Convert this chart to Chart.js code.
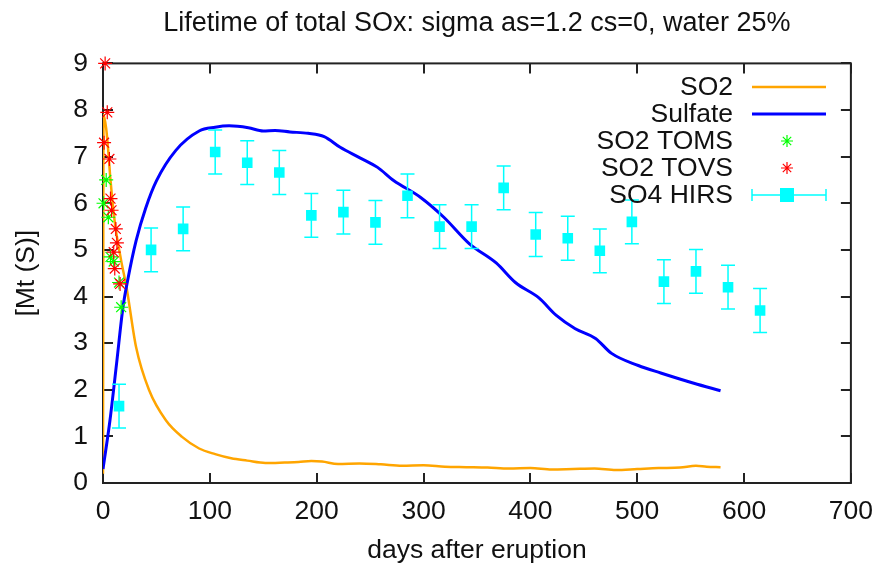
<!DOCTYPE html>
<html>
<head>
<meta charset="utf-8">
<script src="https://cdn.jsdelivr.net/npm/chart.js@4.4.1/dist/chart.umd.min.js"></script>
<style>
  html, body { margin: 0; padding: 0; background: #fff; }
</style>
</head>
<body>
<canvas id="sox-chart" width="886" height="564"></canvas>
<script>
// model SO2
var so2Days = [0, 0.5, 3, 5, 7, 11, 17, 22, 31, 43, 59, 74, 90, 105, 120, 135, 152, 170, 183, 195, 205, 220, 240, 260, 280, 300, 320, 340, 360, 380, 400, 420, 440, 460, 480, 500, 520, 540, 555, 565, 578];
var so2Vals = [0.2, 7.9, 7.6, 7.1, 6.5, 5.6, 4.77, 4.2, 2.91, 2.0, 1.34, 0.99, 0.74, 0.62, 0.53, 0.48, 0.43, 0.44, 0.45, 0.47, 0.46, 0.41, 0.42, 0.4, 0.37, 0.38, 0.35, 0.34, 0.33, 0.31, 0.32, 0.29, 0.3, 0.31, 0.28, 0.3, 0.32, 0.33, 0.37, 0.35, 0.34];

// model sulfate (blue curve)
var sulfDays = [0, 6.5, 12.7, 18.7, 23, 31, 40, 50, 68, 90, 105, 118, 136, 150, 161, 175, 192, 207, 222, 240, 257, 272, 297, 319, 343, 368, 386, 408, 424, 442, 461, 476, 501, 522, 553, 578];
var sulfVals = [0.3, 1.34, 2.56, 3.77, 4.34, 5.2, 5.9, 6.48, 7.13, 7.55, 7.63, 7.66, 7.62, 7.55, 7.56, 7.53, 7.5, 7.43, 7.2, 6.98, 6.77, 6.49, 6.13, 5.7, 5.13, 4.72, 4.3, 3.97, 3.6, 3.31, 3.1, 2.78, 2.52, 2.36, 2.14, 1.98];

// satellite observations
var tomsDays = [3, 0.5, 5, 7, 10, 15, 17];
var tomsVals = [6.5, 6.0, 5.7, 4.85, 4.75, 4.3, 3.77];
var tovsDays = [2, 4, 1, 6, 7, 8, 12, 13, 10, 11, 16];
var tovsVals = [9.0, 7.95, 7.3, 6.95, 6.1, 5.85, 5.45, 5.15, 4.95, 4.6, 4.27];
var hirsDays = [15, 45, 75, 105, 135, 165, 195, 225, 255, 285, 315, 345, 375, 405, 435, 465, 495, 525, 555, 585, 615];
var hirsVals = [1.65, 5.0, 5.45, 7.1, 6.87, 6.66, 5.74, 5.81, 5.59, 6.16, 5.5, 5.5, 6.33, 5.33, 5.25, 4.98, 5.6, 4.32, 4.54, 4.2, 3.7];
var hirsErr  = [0.47, 0.47, 0.47, 0.47, 0.47, 0.47, 0.47, 0.47, 0.47, 0.47, 0.47, 0.47, 0.47, 0.47, 0.47, 0.47, 0.47, 0.47, 0.47, 0.47, 0.47];

var xTicks = [0, 100, 200, 300, 400, 500, 600, 700];
var yTicks = [0, 1, 2, 3, 4, 5, 6, 7, 8, 9];

var FONT = "'Liberation Sans', Arial, sans-serif";
var FSIZE = 26.5;

function pairs(xs, ys){
  var out = [];
  for(var i = 0; i < xs.length; i++) out.push({x: xs[i], y: ys[i]});
  return out;
}

// gnuplot style frame with inward ticks on all four sides
var framePlugin = {
  id: 'frame',
  beforeDatasetsDraw: function(chart){
    var ctx = chart.ctx, a = chart.chartArea;
    var xs = chart.scales.x, ys = chart.scales.y;
    ctx.save();
    ctx.strokeStyle = '#222';
    ctx.lineWidth = 2;
    ctx.beginPath();
    xTicks.forEach(function(v){
      var px = Math.round(xs.getPixelForValue(v));
      ctx.moveTo(px, a.bottom); ctx.lineTo(px, a.bottom - 10);
      ctx.moveTo(px, a.top); ctx.lineTo(px, a.top + 10);
    });
    yTicks.forEach(function(v){
      var py = Math.round(ys.getPixelForValue(v));
      ctx.moveTo(a.left, py); ctx.lineTo(a.left + 10, py);
      ctx.moveTo(a.right, py); ctx.lineTo(a.right - 10, py);
    });
    ctx.stroke();
    ctx.strokeRect(a.left, a.top, a.right - a.left, a.bottom - a.top);
    ctx.restore();
  }
};

// vertical error bars for HIRS
var errorBarPlugin = {
  id: 'errbars',
  afterDatasetsDraw: function(chart){
    var ctx = chart.ctx, xs = chart.scales.x, ys = chart.scales.y;
    ctx.save();
    ctx.strokeStyle = '#00ffff';
    ctx.lineWidth = 1.5;
    ctx.beginPath();
    for(var i = 0; i < hirsDays.length; i++){
      var px = xs.getPixelForValue(hirsDays[i]);
      var top = ys.getPixelForValue(hirsVals[i] + hirsErr[i]);
      var bot = ys.getPixelForValue(hirsVals[i] - hirsErr[i]);
      ctx.moveTo(px, top); ctx.lineTo(px, bot);
      ctx.moveTo(px - 7, top); ctx.lineTo(px + 7, top);
      ctx.moveTo(px - 7, bot); ctx.lineTo(px + 7, bot);
    }
    ctx.stroke();
    ctx.restore();
  }
};

// key in the top right corner, text right aligned like gnuplot
var keyPlugin = {
  id: 'gnukey',
  afterDraw: function(chart){
    var ctx = chart.ctx;
    ctx.save();
    ctx.font = FSIZE + 'px ' + FONT;
    ctx.textAlign = 'right';
    ctx.textBaseline = 'middle';
    chart.data.datasets.forEach(function(ds, i){
      var y = 87 + i * 27;
      ctx.fillStyle = '#111';
      ctx.fillText(ds.label, 733, y + 1);
      var col = ds.borderColor;
      if(ds.showLine){
        ctx.strokeStyle = col;
        ctx.lineWidth = ds.borderWidth;
        ctx.beginPath(); ctx.moveTo(752, y); ctx.lineTo(826, y); ctx.stroke();
      } else if(ds.pointStyle === 'star'){
        ctx.strokeStyle = col;
        ctx.lineWidth = 1.2;
        var r = 6;
        ctx.beginPath();
        ctx.moveTo(787 - r, y); ctx.lineTo(787 + r, y);
        ctx.moveTo(787, y - r); ctx.lineTo(787, y + r);
        ctx.moveTo(787 - r * 0.7, y - r * 0.7); ctx.lineTo(787 + r * 0.7, y + r * 0.7);
        ctx.moveTo(787 - r * 0.7, y + r * 0.7); ctx.lineTo(787 + r * 0.7, y - r * 0.7);
        ctx.stroke();
      } else {
        ctx.strokeStyle = '#00ffff';
        ctx.lineWidth = 1.5;
        ctx.beginPath();
        ctx.moveTo(752, y); ctx.lineTo(826, y);
        ctx.moveTo(752, y - 6); ctx.lineTo(752, y + 6);
        ctx.moveTo(826, y - 6); ctx.lineTo(826, y + 6);
        ctx.stroke();
        ctx.fillStyle = '#00ffff';
        ctx.fillRect(780, y - 7, 14, 14);
      }
    });
    ctx.restore();
  }
};

var soxChartConfig = {
  type: 'scatter',
  data: {
    datasets: [{
      label: 'SO2',
      data: pairs(so2Days, so2Vals),
      showLine: true,
      borderColor: '#ffa500',
      borderWidth: 2.5,
      pointRadius: 0,
      cubicInterpolationMode: 'monotone',
      order: 5
    }, {
      label: 'Sulfate',
      data: pairs(sulfDays, sulfVals),
      showLine: true,
      borderColor: '#0000ff',
      borderWidth: 3,
      pointRadius: 0,
      cubicInterpolationMode: 'monotone',
      order: 4
    }, {
      label: 'SO2 TOMS',
      data: pairs(tomsDays, tomsVals),
      showLine: false,
      borderColor: '#00ff00',
      backgroundColor: '#00ff00',
      pointStyle: 'star',
      pointRadius: 7,
      pointBorderWidth: 1.2,
      clip: false,
      order: 3
    }, {
      label: 'SO2 TOVS',
      data: pairs(tovsDays, tovsVals),
      showLine: false,
      borderColor: '#ff0000',
      backgroundColor: '#ff0000',
      pointStyle: 'star',
      pointRadius: 7,
      pointBorderWidth: 1.2,
      clip: false,
      order: 2
    }, {
      label: 'SO4 HIRS',
      data: pairs(hirsDays, hirsVals),
      showLine: false,
      borderColor: '#00ffff',
      backgroundColor: '#00ffff',
      pointStyle: 'rect',
      pointRadius: 7.5,
      pointBorderWidth: 0,
      order: 1
    }]
  },
  options: {
    responsive: false,
    animation: false,
    devicePixelRatio: 1,
    layout: { padding: { left: 0, right: 28, top: 0, bottom: 0 } },
    plugins: {
      legend: { display: false },
      tooltip: { enabled: false },
      title: {
        display: true,
        fullSize: false,
        text: 'Lifetime of total SOx: sigma as=1.2 cs=0, water 25%',
        color: '#111',
        font: { family: FONT, size: 27, weight: 'normal' },
        padding: { top: 7, bottom: 24 }
      }
    },
    scales: {
      x: {
        type: 'linear',
        min: 0, max: 700,
        afterBuildTicks: function(s){ s.ticks = xTicks.map(function(v){ return {value: v}; }); },
        afterFit: function(s){ s.height = 81; },
        grid: { display: false, drawTicks: false },
        border: { display: false },
        ticks: { color: '#111', padding: 13, maxRotation: 0, font: { family: FONT, size: FSIZE } },
        title: { display: true, text: 'days after eruption', color: '#111', font: { family: FONT, size: FSIZE }, padding: { top: 0, bottom: -3 } }
      },
      y: {
        type: 'linear',
        min: 0, max: 9,
        afterBuildTicks: function(s){ s.ticks = yTicks.map(function(v){ return {value: v}; }); },
        afterFit: function(s){ s.width = 103; },
        grid: { display: false, drawTicks: false },
        border: { display: false },
        ticks: { color: '#111', padding: 15, font: { family: FONT, size: FSIZE } },
        title: { display: true, text: '[Mt (S)]', color: '#111', font: { family: FONT, size: FSIZE }, padding: { top: 11, bottom: 0 } }
      }
    }
  },
  plugins: [framePlugin, errorBarPlugin, keyPlugin]
};

function createSoxChart(){
  var ctx = document.getElementById('sox-chart').getContext('2d');
  window.soxChart = new Chart(ctx, soxChartConfig);
}
createSoxChart();
</script>
</body>
</html>
